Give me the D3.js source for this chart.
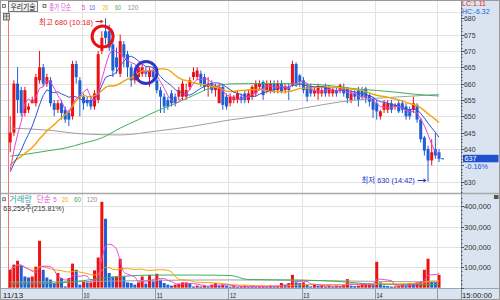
<!DOCTYPE html>
<html>
<head>
<meta charset="utf-8">
<script src="https://cdn.jsdelivr.net/npm/d3@7"></script>
<style>
  body { margin: 0; background: #fff; }
  svg { display: block; }
  text { font-family: "Liberation Sans", "Noto Sans CJK KR", sans-serif; font-size: 8px; }
</style>
</head>
<body>
<svg id="chart" width="500" height="300"></svg>
<script>
// 3-minute bars, 11/13 09:00 onwards
const barMinutes = 3;
const opens = [642,645,660,658,651,652,654,654,661,665,660,661,654,652,654,652,651,650,666,661,
  656,655,655,653,655,670,676,676,672,668,663,672,669,665,661,662,663,664,662,664,
  661,658,656,655,657,656,656,656,656,659,662,662,663,662,659,660,658,654,659,656,
  654,655,655,656,657,655,656,657,659,660.5,658,658,660,658,660,658,659,659.5,666,662.5,
  661,659,659,657,657,657,659,657,657,658,658,659,658.5,655,657,658,658,658.5,656.5,655.5,
  654,650,652,652,654,653,654,654,653,652,652,653.5,649,643.5,640,636.5,640,639];
const highs = [650,661,665,659,659,654,656,663,670,666,663,662,655,655,655,653,652,667,667,662,
  657,656,656,658,670,676,680,678,673,671,675,673,670,666,664,666,666,665,665,665,
  662,659,657,656,658,657,659,661,660,662,665,665,664,663,662,661,660,660,660,657,
  657,656.5,658,657,658,658,659.5,661,661,661,661,661,661,661,661,660,660,667,666.5,663,
  662,660,660,659,660,659,660,659.5,659,659,660,660,659,658,658,659,659,659,657,656,
  655,652,655,655,655,654,655,655,654,653,656,654,649.5,644,641,643,645,640];
const lows = [639,644,651,650,650,651,654,653,660,659,659,653,650,651,649,648,647,649,660,650,
  652,653,652,652,654,669,672,670,662,663,662,665,662,659,660,661,662,662,659,661,
  657,651,651,652,653,653,655,655,655,658,661,661,659,658,656,657,656,654,652,652,
  653,654,654,654,654,654,655,656,658,655,657,657,657,657,657,657,655,659,659,659,
  657,654.5,656,656,655,656,656,656,656,656,657,656,654,654,655,653,655,654,653,649.5,
  649,649,651,651,651,652,651,651,649,649,651,648,642,638,630,635,637,636];
const closes = [645,660,655,651,658,653,655,662,665,660,662,654,652,654,651,649,649,666,662,656,
  654,654,653,657,669,674,674,671,664,665,673,668,665,661,663,665,665,663,664,662,
  658,656,653,653,654,654,658,660,658,661,663.5,664,660,659,660,658,659,659,653.5,653,
  656,656,657,655,655,657,659,660,660,656.5,660,660,658,660,657.5,659,658,666,660,660.5,
  658,656,657,658,659,658,657,659,658,657,659.5,657,655.5,657,656,655,656,655.5,654.5,652,
  651.5,651.5,654,654,652,653.5,651.5,652,650,650,654,649,643,639.5,636.5,639,638,637];
const volumes = [88000,113000,132000,109000,55000,50000,55000,103000,230000,88000,50000,40000,23000,72000,47000,6000,47000,118000,88000,15000,
  31000,26000,26000,85000,148000,421000,338000,72000,55000,55000,142000,55000,26000,23000,15000,26000,55000,20000,63000,31000,
  68000,39000,23000,15000,10000,15000,20000,26000,26000,20000,6000,10000,6000,10000,6000,15000,23000,10000,15000,10000,
  5000,8000,4000,6000,10000,5000,7000,4000,6000,9000,5000,10000,5000,8000,23000,15000,23000,63000,26000,23000,
  26000,15000,6000,15000,10000,10000,6000,8000,6000,10000,8000,15000,42000,10000,8000,10000,20000,20000,20000,15000,
  127000,26000,10000,8000,6000,6000,10000,15000,10000,23000,20000,26000,31000,88000,142000,31000,29000,63255];
// last closes of the previous session (for the short averages)
const prevCloses = [638,637,638,637,636,637,637,636,637,637,635,633,632,631,631,630,631,631,631];

// long averages at sample bars
const ma60Idx = [0,5,10,15,20,25,30,35,40,45,50,55,60,65,70,75,80,85,90,95,100,105,110,117];
const ma60 = [637.8,638.5,639.4,640.3,641.8,643.4,646.4,649,651.6,653.9,656.4,658.8,659.9,660,660,660,659.9,659.6,659,658.3,657.9,657.4,656.8,656.2];
const ma120Idx = [0,10,20,30,40,50,60,70,80,90,100,110,117];
const ma120 = [646.4,645.8,644.6,644.3,645.5,647,648.9,650.4,652.5,654.4,655.5,656.2,656.7];
const volMa60Idx = [0,10,20,30,40,50,60,65,70,80,90,100,110,117];
const volMa60 = [18000,20000,35000,55000,62000,62000,60000,40000,39000,37000,30000,17000,15000,16000];
const volMa120Idx = [0,20,40,60,80,100,117];
const volMa120 = [28000,30000,36000,38000,36000,31000,28000];

const priceTicks = [630,635,640,645,650,655,660,665,670,675,680];
const volTicks = [100000,200000,300000,400000];
const hourMinutes = [0,60,120,180,240,300];
const hourLabels = ["11/13","10","11","12","13","14"];

const upColor = "#ee1111";
const downColor = "#1f5fd6";
const gridColor = "#e2e2e2";
const panelColor = "#dae4f0";
const maColors = { 5: "#e845d6", 10: "#3a50d6", 20: "#f4a400", 60: "#3cb05a", 120: "#a0a0a0" };

const svg = d3.select("#chart");
const plotRight = 461;
const x = d3.scaleLinear().domain([0, 360]).range([8.4, 448.2]);
const y = d3.scaleLinear().domain([630, 680]).range([181.7, 18.2]);
const yv = d3.scaleLinear().domain([0, 400000]).range([287.7, 206.1]);
const cx = i => x(i * barMinutes + barMinutes / 2);

function label(g, str, lx, ly, w, color, size) {
    const t = g.append("text")
        .text(str)
        .attr("x", lx)
        .attr("y", ly)
        .attr("fill", color || "#222");
    if (size) t.style("font-size", size + "px");
    if (w) t.attr("textLength", w).attr("lengthAdjust", "spacingAndGlyphs");
    return t;
}

function hline(g, x1, x2, yy, color, width) {
    return g.append("line").attr("x1", x1).attr("x2", x2).attr("y1", yy).attr("y2", yy)
        .attr("stroke", color).attr("stroke-width", width || 1);
}

function vline(g, xx, y1, y2, color, width) {
    return g.append("line").attr("x1", xx).attr("x2", xx).attr("y1", y1).attr("y2", y2)
        .attr("stroke", color).attr("stroke-width", width || 1);
}

// background and panels
svg.append("rect").attr("width", 500).attr("height", 300).attr("fill", "#fff");
svg.append("rect").attr("x", plotRight).attr("y", 0).attr("width", 500 - plotRight).attr("height", 300).attr("fill", panelColor);
svg.append("rect").attr("x", 0).attr("y", 288).attr("width", 500).attr("height", 12).attr("fill", panelColor);

const defs = svg.append("defs");
defs.append("clipPath").attr("id", "clipPrice").append("rect").attr("x", 0).attr("y", 0).attr("width", plotRight).attr("height", 193);
defs.append("clipPath").attr("id", "clipVol").append("rect").attr("x", 0).attr("y", 194).attr("width", plotRight).attr("height", 94);

// grid
const grid = svg.append("g");
priceTicks.filter(p => p < 680).forEach(p => hline(grid, 0, plotRight, Math.round(y(p)) + 0.5, gridColor));
hline(grid, 0, plotRight, 12.5, gridColor);
volTicks.forEach(v => hline(grid, 0, plotRight, Math.round(yv(v)) + 0.5, gridColor));
const dividers = hourMinutes.slice(1).concat([(closes.length - 1) * barMinutes]);
dividers.forEach(m => {
    vline(grid, Math.round(x(m)) + 0.5, 0, 288, gridColor);
    vline(grid, Math.round(x(m)) + 0.5, 288, 300, "#8e9cb2");
});
vline(grid, Math.round(x(0)) + 0.5, 0, 288, "#f07474");

// candles
const candles = svg.append("g").attr("clip-path", "url(#clipPrice)");
const idx = d3.range(closes.length);
candles.selectAll("line.wick").data(idx).enter().append("line")
    .attr("x1", i => cx(i)).attr("x2", i => cx(i))
    .attr("y1", i => y(highs[i])).attr("y2", i => y(lows[i]))
    .attr("stroke", i => closes[i] >= opens[i] ? upColor : downColor);
candles.selectAll("rect.body").data(idx).enter().append("rect")
    .attr("x", i => cx(i) - 1.5).attr("width", 3)
    .attr("y", i => y(Math.max(opens[i], closes[i])))
    .attr("height", i => Math.max(1, Math.abs(y(opens[i]) - y(closes[i]))))
    .attr("fill", i => closes[i] >= opens[i] ? upColor : downColor);

// price moving averages
const allCloses = prevCloses.concat(closes);
function priceMa(n) {
    return closes.map((_, i) => {
        const end = i + prevCloses.length + 1;
        return [i, d3.mean(allCloses.slice(Math.max(0, end - n), end))];
    });
}
const priceLine = d3.line().x(d => cx(d[0])).y(d => y(d[1]));
const smoothPrice = d3.line().x(d => cx(d[0])).y(d => y(d[1])).curve(d3.curveMonotoneX);
const maG = svg.append("g").attr("clip-path", "url(#clipPrice)").attr("fill", "none");
maG.append("path").attr("d", smoothPrice(ma120Idx.map((i, k) => [i, ma120[k]]))).attr("stroke", maColors[120]);
maG.append("path").attr("d", smoothPrice(ma60Idx.map((i, k) => [i, ma60[k]]))).attr("stroke", maColors[60]);
maG.append("path").attr("d", priceLine(priceMa(20))).attr("stroke", maColors[20]).attr("stroke-width", 1.4);
maG.append("path").attr("d", priceLine(priceMa(10))).attr("stroke", maColors[10]);
maG.append("path").attr("d", priceLine(priceMa(5))).attr("stroke", maColors[5]);

// volume
const volG = svg.append("g").attr("clip-path", "url(#clipVol)");
volG.selectAll("rect").data(idx).enter().append("rect")
    .attr("x", i => cx(i) - 1.5).attr("width", 3)
    .attr("y", i => yv(volumes[i]))
    .attr("height", i => yv(0) - yv(volumes[i]))
    .attr("fill", i => (i === 0 || volumes[i] >= volumes[i - 1]) ? upColor : downColor);
function volMa(n) {
    return volumes.map((_, i) => [i, d3.mean(volumes.slice(Math.max(0, i - n + 1), i + 1))]);
}
const volLine = d3.line().x(d => cx(d[0])).y(d => yv(d[1])).curve(d3.curveMonotoneX);
const volMaG = volG.append("g").attr("fill", "none");
volMaG.append("path").attr("d", volLine(volMa120Idx.map((i, k) => [i, volMa120[k]]))).attr("stroke", maColors[120]);
volMaG.append("path").attr("d", volLine(volMa60Idx.map((i, k) => [i, volMa60[k]]))).attr("stroke", maColors[60]);
volMaG.append("path").attr("d", volLine(volMa(20))).attr("stroke", maColors[20]);
volMaG.append("path").attr("d", volLine(volMa(5))).attr("stroke", maColors[5]);

// panel separators and frame
hline(svg, 0, 500, 193.5, "#a8a8a8", 1.5);
hline(svg, 0, 500, 288.5, "#9aa6b8");
vline(svg, plotRight + 0.5, 0, 300, "#7d8796");
svg.append("rect").attr("x", 0.5).attr("y", 0.5).attr("width", 499).attr("height", 299)
    .attr("fill", "none").attr("stroke", "#9a9a9a");
svg.append("rect").attr("x", 494).attr("y", 195).attr("width", 4.5).attr("height", 4).attr("fill", "#555");

// right axes
const axisG = svg.append("g");
d3.range(627, 684).forEach(p => {
    const major = p % 5 === 0;
    hline(axisG, plotRight, plotRight + (major ? 3 : 1.5), Math.round(y(p)) + 0.5, "#555");
});
d3.range(0, 460000, 20000).forEach(v => {
    const major = v % 100000 === 0;
    hline(axisG, plotRight, plotRight + (major ? 3 : 1.5), Math.round(yv(v)) + 0.5, "#555");
});
const lastClose = closes[closes.length - 1];
// the current-price tag hides the tick label next to it
priceTicks.filter(p => Math.abs(y(p) - y(lastClose)) > 8).forEach(p => {
    label(axisG, String(p), 464, y(p) + 3, 11.5, "#333");
});
volTicks.forEach(v => label(axisG, d3.format(",")(v), 464, yv(v) + 3, 27, "#333"));

label(axisG, "LC:1.11", 462, 6, 24, "#e02020", 7);
label(axisG, "HC:-6.32", 462, 13.6, 27.5, "#2060e0", 7);
axisG.append("rect").attr("x", 463).attr("y", y(lastClose) - 4).attr("width", 35.5).attr("height", 7.5).attr("fill", "#1e50d0");
label(axisG, String(lastClose), 464.5, y(lastClose) + 2.4, 12, "#fff", 7.5);
label(axisG, "-0.16%", 465, y(lastClose) + 10.5, 23, "#2050e0", 7.5);
hline(axisG, cx(closes.length - 1) + 2, cx(closes.length - 1) + 5, y(lastClose), "#2050e0");

// time axis
hourMinutes.forEach((m, k) => {
    const lx = k === 0 ? 2.7 : x(m) + 1.7;
    label(axisG, hourLabels[k], lx, 297.5, k === 0 ? 20.6 : 6, "#222");
});
label(axisG, "15:00:00", 462, 297.5, 30, "#222");

// legends
const leg = svg.append("g");
leg.append("rect").attr("x", 2.5).attr("y", 4.5).attr("width", 3).attr("height", 3).attr("fill", "#ddd").attr("stroke", "#666").attr("stroke-width", 0.8);
leg.append("rect").attr("x", 8.5).attr("y", 1.5).attr("width", 29).attr("height", 10).attr("fill", "#f2f2f2").attr("stroke", "#777");
label(leg, "우리기술", 10.5, 9.8, 25, "#111");
leg.append("rect").attr("x", 43).attr("y", 4.5).attr("width", 3).attr("height", 3).attr("fill", "#ddd").attr("stroke", "#666").attr("stroke-width", 0.8);
label(leg, "종가 단순", 49.3, 9.5, 21.7, maColors[5]);
label(leg, "5", 81.7, 9.5, 3.5, maColors[5]);
label(leg, "10", 89.3, 9.5, 5.7, maColors[10]);
label(leg, "20", 102.7, 9.5, 5.6, maColors[20]);
label(leg, "60", 115, 9.5, 6, maColors[60]);
label(leg, "120", 127.7, 9.5, 10.6, "#909090");
leg.append("rect").attr("x", 3.5).attr("y", 13.5).attr("width", 6).attr("height", 6.5).attr("fill", "#cfcfcf").attr("stroke", "#555").attr("stroke-width", 0.8);
hline(leg, 3.5, 9.5, 16.2, "#555", 0.6);
vline(leg, 6.5, 13.5, 20, "#555", 0.6);

leg.append("rect").attr("x", 2.7).attr("y", 197.7).attr("width", 2.8).attr("height", 3).attr("fill", "#ddd").attr("stroke", "#666").attr("stroke-width", 0.8);
label(leg, "거래량", 9.3, 202, 22.4, "#2aa6a0");
label(leg, "단순", 36.7, 202, 14, maColors[5]);
label(leg, "5", 53.3, 202, 3.4, maColors[5]);
label(leg, "20", 61.7, 202, 6.6, maColors[20]);
label(leg, "60", 74, 202, 7, maColors[60]);
label(leg, "120", 86.7, 202, 10.6, "#909090");
label(leg, d3.format(",")(volumes[volumes.length - 1]) + "주(215.81%)", 3.3, 210.5, 60.7, "#333");

// annotations: day high / day low
const ann = svg.append("g");
const hiIdx = highs.indexOf(d3.max(highs));
const loIdx = lows.indexOf(d3.min(lows));
ann.append("circle").attr("cx", cx(hiIdx - 0.8)).attr("cy", y(674.4)).attr("r", 10.5)
    .attr("fill", "none").attr("stroke", "#e81212").attr("stroke-width", 3);
ann.append("circle").attr("cx", cx(37.05)).attr("cy", y(663.4)).attr("r", 11)
    .attr("fill", "none").attr("stroke", "#3434c4").attr("stroke-width", 3);

function arrow(g, x1, x2, yy, color) {
    hline(g, x1, x2 - 2, yy, color, 1);
    g.append("path").attr("d", `M${x2},${yy} L${x2 - 3},${yy - 2} L${x2 - 3},${yy + 2} Z`).attr("fill", color);
}
const hiColor = "#e81818";
const loColor = "#2a2ad0";
const hiArrowEnd = cx(hiIdx) - 2;
arrow(ann, hiArrowEnd - 8, hiArrowEnd, 21.5, hiColor);
label(ann, "최고 " + d3.max(highs) + " (10:18)", hiArrowEnd - 64.5, 24.5, 54, hiColor);
const loArrowEnd = cx(loIdx) - 1.5;
arrow(ann, loArrowEnd - 9, loArrowEnd, 180.5, loColor);
label(ann, "최저 " + d3.min(lows) + " (14:42)", loArrowEnd - 65, 182.8, 53.3, loColor);
</script>
</body>
</html>
